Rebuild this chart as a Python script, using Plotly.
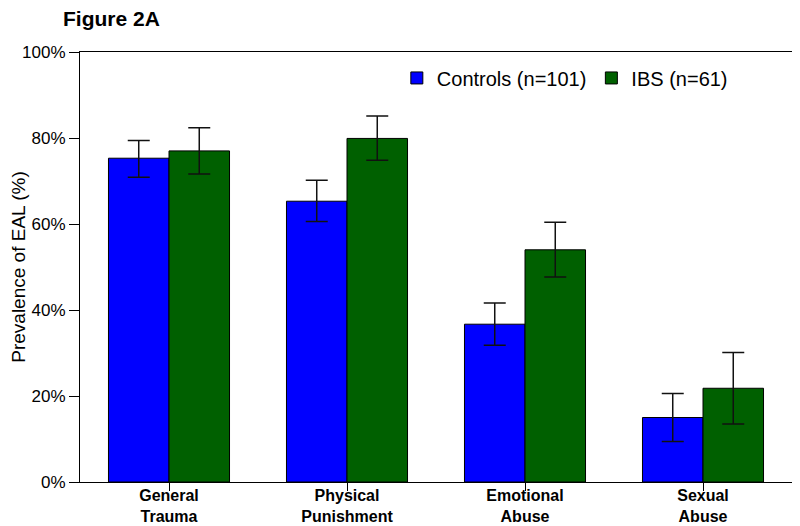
import plotly.graph_objects as go

categories = ["<b>General<br>Trauma</b>", "<b>Physical<br>Punishment</b>",
              "<b>Emotional<br>Abuse</b>", "<b>Sexual<br>Abuse</b>"]
controls = [75.3, 65.3, 36.7, 15.0]
controls_upper = [79.4, 70.2, 41.6, 20.6]
controls_lower = [70.9, 60.6, 31.8, 9.4]
ibs = [77.0, 79.9, 54.0, 21.8]
ibs_upper = [82.4, 85.1, 60.4, 30.1]
ibs_lower = [71.6, 74.8, 47.7, 13.5]

def err(vals, up, lo):
    return ([u - v for u, v in zip(up, vals)], [v - l for v, l in zip(vals, lo)])

cu, cl = err(controls, controls_upper, controls_lower)
iu, il = err(ibs, ibs_upper, ibs_lower)

fig = go.Figure()
fig.add_trace(go.Bar(
    x=categories, y=controls, name="Controls (n=101)",
    marker=dict(color="#0000FF", line=dict(color="#000000", width=1)),
    error_y=dict(type="data", symmetric=False, array=cu, arrayminus=cl,
                 color="#111111", thickness=1.5, width=11),
))
fig.add_trace(go.Bar(
    x=categories, y=ibs, name="IBS (n=61)",
    marker=dict(color="#006000", line=dict(color="#000000", width=1)),
    error_y=dict(type="data", symmetric=False, array=iu, arrayminus=il,
                 color="#111111", thickness=1.5, width=11),
))

# page body has an 8px default margin, so sizes/offsets compensate for it
fig.update_layout(
    width=792, height=518,
    margin=dict(l=72, r=8, t=44, b=44, autoexpand=False),
    plot_bgcolor="white", paper_bgcolor="white",
    barmode="group", bargap=0.32, bargroupgap=0,
    font=dict(family="Liberation Sans, Arial, sans-serif", color="#000000"),
    title=dict(text="<b>Figure 2A</b>", x=55/792, xanchor="left",
               y=1, yanchor="top", pad=dict(t=3), font=dict(size=21),
               automargin=False),
    legend=dict(orientation="h", x=0.445, y=0.985, xanchor="left", yanchor="top",
                font=dict(size=20), bgcolor="rgba(0,0,0,0)",
                itemwidth=30, tracegroupgap=0),
    showlegend=True,
)
fig.update_xaxes(
    automargin=False,
    showline=True, linecolor="#000000", linewidth=1, mirror=True,
    ticks="outside", ticklen=8, tickcolor="#000000",
    tickfont=dict(size=16), showgrid=False, ticklabelstandoff=-9,
)
fig.update_yaxes(
    automargin=False,
    range=[0, 100], tickvals=[0, 20, 40, 60, 80, 100],
    ticktext=["0%", "20%", "40%", "60%", "80%", "100%"],
    showline=True, linecolor="#000000", linewidth=1, mirror=True,
    ticks="outside", ticklen=10, tickcolor="#000000",
    tickfont=dict(size=17), showgrid=False, zeroline=False,
    title=dict(text="Prevalence of EAL (%)", font=dict(size=19), standoff=3),
)

fig.write_html("out.html")
